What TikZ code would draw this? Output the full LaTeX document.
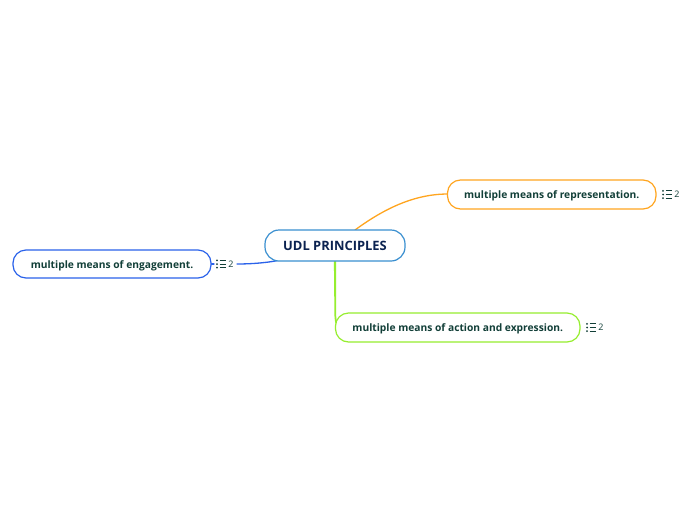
\documentclass[tikz,border=0pt]{standalone}
\usepackage{fontspec}
\setmainfont{Open Sans}
\definecolor{cblue}{HTML}{3A8FD0}
\definecolor{corange}{HTML}{FFA51F}
\definecolor{cgreen}{HTML}{96EE2F}
\definecolor{croyal}{HTML}{2A62EA}
\definecolor{tnavy}{HTML}{0B2250}
\definecolor{tgreen}{HTML}{123F38}
\newcommand{\basedrop}[2]{\raisebox{-#1pt}[0pt][0pt]{#2}}
\tikzset{
  x=1pt,y=-1pt,
  topic/.style={draw=#1,line width=1.2pt,rounded corners=13pt,fill=white,inner sep=0pt,font=\bfseries\fontsize{10.25}{12}\selectfont,text=tgreen,anchor=center},
  central/.style={draw=cblue,line width=1.2pt,rounded corners=14pt,fill=white,inner sep=0pt,font=\bfseries\fontsize{12.9}{14}\selectfont,text=tnavy,anchor=center},
  conn/.style={draw=#1,line width=1.3pt,line cap=round},
  cnt/.style={font=\fontsize{9}{10}\selectfont,text=tgreen,inner sep=0pt,anchor=center},
  iconline/.style={draw=tgreen,line width=0.9pt},
}
\newcommand{\listicon}[2]{%
  \fill[tgreen] (#1-4.5,#2-3.6) circle (1pt) (#1-4.5,#2) circle (1pt) (#1-4.5,#2+3.6) circle (1pt);
  \draw[iconline] (#1-1.8,#2-3.6) -- (#1+4.8,#2-3.6) (#1-1.8,#2) -- (#1+4.8,#2) (#1-1.8,#2+3.6) -- (#1+4.8,#2+3.6);
}
\begin{document}
\begin{tikzpicture}
\useasboundingbox (0,0) rectangle (696,520);
\fill[white] (0,0) rectangle (696,520);
\coordinate (orangeStart) at (355,230);
\coordinate (blueStart) at (278,260.5);
\coordinate (blueEnd) at (237,264);
\coordinate (greenStart) at (335,261);
\coordinate (blueTickA) at (211,264);
\coordinate (blueTickB) at (214,264);
\draw[conn=corange] (orangeStart) .. controls (385,208) and (415,194) .. (448,194);
\draw[conn=croyal] (blueStart) .. controls (265,263) and (250,264) .. (blueEnd);
\draw[conn=croyal] (blueTickA) -- (blueTickB);
\fill[cgreen] (333.9,261) -- (336.1,261) -- (336.1,312) .. controls (336.1,320) and (337,325) .. (340,328) -- (338,328) .. controls (335,325) and (334.4,320) .. (334.4,312) -- cycle;
\node[central,minimum width=140pt,minimum height=31pt] (c) at (335,245.5) {\basedrop{4.5}{UDL PRINCIPLES}};
\node[topic=corange,minimum width=208.5pt,minimum height=29pt] (r) at (551.75,194.5) {\basedrop{3.6}{multiple means of representation.}};
\node[topic=croyal,minimum width=198pt,minimum height=28pt] (e) at (112,264) {\basedrop{4}{multiple means of engagement.}};
\node[topic=cgreen,minimum width=244.5pt,minimum height=29pt] (a) at (457.75,327.5) {\basedrop{3.6}{multiple means of action and expression.}};
\listicon{667.5}{194.5}
\node[cnt] (n1) at (677,194.5) {2};
\listicon{221.5}{264}
\node[cnt] (n2) at (231,264.5) {2};
\listicon{591.5}{327.5}
\node[cnt] (n3) at (601,327.5) {2};
\end{tikzpicture}
\end{document}
